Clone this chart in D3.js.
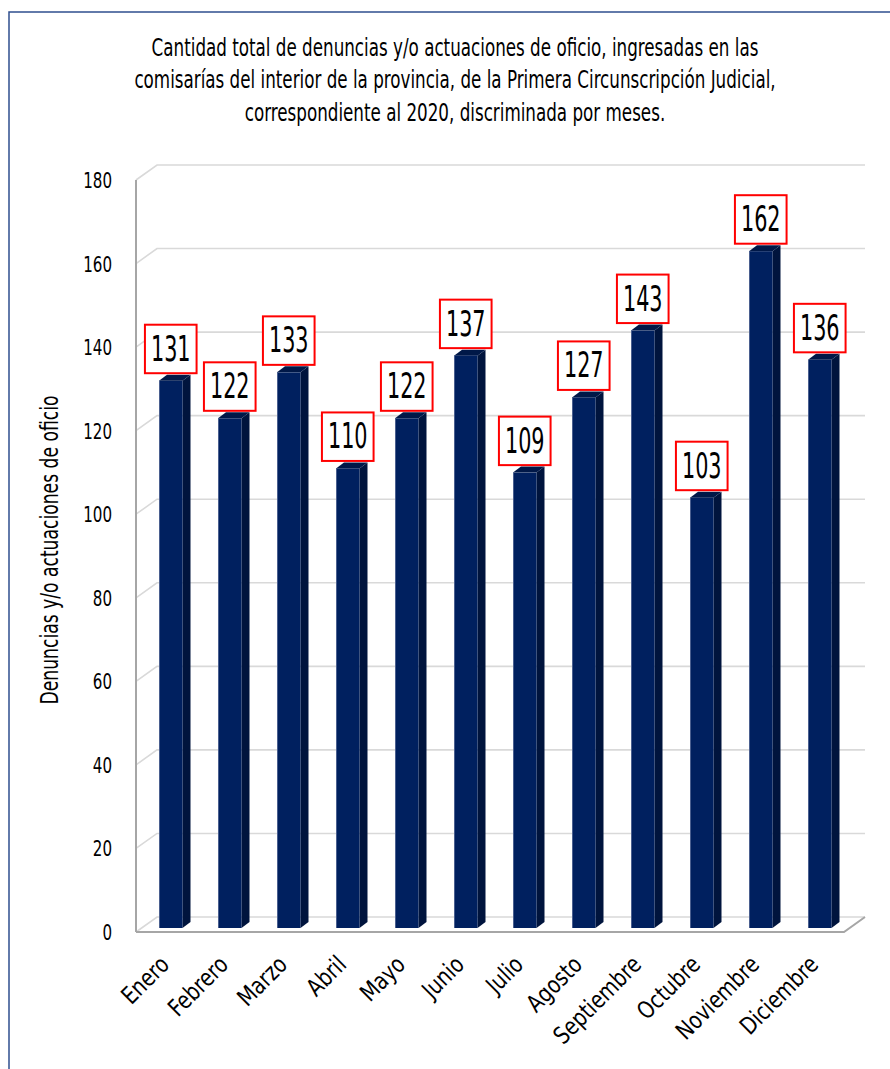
<!DOCTYPE html>
<html><head><meta charset="utf-8">
<script src="https://cdn.jsdelivr.net/npm/d3@7"></script>
<style>
html,body{margin:0;padding:0;background:#fff;}
svg text{font-family:"Liberation Sans Narrow","DejaVu Sans Condensed","Arial Narrow",sans-serif;fill:#000;}
</style></head>
<body><svg id="c" width="890" height="1069"></svg>
<script>
const months = ["Enero","Febrero","Marzo","Abril","Mayo","Junio","Julio","Agosto","Septiembre","Octubre","Noviembre","Diciembre"];
const values = [131,122,133,110,122,137,109,127,143,103,162,136];
const yTicks = [0,20,40,60,80,100,120,140,160,180];
const titleLines = ["Cantidad total de denuncias y/o actuaciones de oficio, ingresadas en las",
  "comisarías del interior de la provincia, de la Primera Circunscripción Judicial,",
  "correspondiente al 2020, discriminada por meses."];
const yTitle = "Denuncias y/o actuaciones de oficio";

const svg = d3.select("#c");
const DX = 21, DY = -15;          // wall depth
const BX = 5.6, BY = -4;          // bar plane offset
const SX = 8, SY = -6;            // bar depth

// border
svg.append("path").attr("d","M9,1069 L9,12 L890,12").attr("fill","none").attr("stroke","#2f4f8f").attr("stroke-width",1.5);

// title
const tcx = 455;
svg.append("g").selectAll("text").data(titleLines).join("text")
  .attr("x",tcx).attr("y",(d,i)=>56+i*32.5).attr("text-anchor","middle")
  .attr("font-size",25).attr("transform",`translate(${tcx},0) scale(0.745,1) translate(${-tcx},0)`)
  .text(d=>d);

const x = d3.scaleBand().domain(months).range([136,844]);
const y = d3.scaleLinear().domain([0,180]).range([932,180]);

// grid: left wall diagonals + back wall horizontals
const g = svg.append("g");
g.selectAll(".gl").data(yTicks).join("path")
  .attr("d",d=>`M${136},${y(d)} L${136+DX},${y(d)+DY} L${844+DX},${y(d)+DY}`)
  .attr("fill","none").attr("stroke","#d9d9d9").attr("stroke-width",1.6);
// left wall front edge
g.append("line").attr("x1",136).attr("x2",136).attr("y1",y(180)).attr("y2",y(0))
  .attr("stroke","#a6a6a6").attr("stroke-width",2);
// floor front edge + right diagonal
g.append("path").attr("d",`M136,${y(0)} L844,${y(0)} L${844+DX},${y(0)+DY}`)
  .attr("fill","none").attr("stroke","#a6a6a6").attr("stroke-width",2);

// y tick labels
svg.append("g").selectAll("text").data(yTicks).join("text")
  .attr("x",112).attr("y",d=>y(d)+8).attr("text-anchor","end").attr("font-size",21)
  .attr("transform",d=>`translate(112,0) scale(0.8,1) translate(-112,0)`)
  .text(d=>d);

// y title
svg.append("text").attr("transform","translate(58,550) rotate(-90) scale(0.795,1)")
  .attr("text-anchor","middle").attr("font-size",24).text(yTitle);

// bars
const bw = 23.5;
const bars = svg.append("g").selectAll("g").data(months.map((m,i)=>({m,v:values[i]}))).join("g");
bars.each(function(d){
  const gg = d3.select(this);
  const x0 = x(d.m) + x.bandwidth()*0.295 + BX;
  const x1 = x0 + bw;
  const yb = y(0) + BY, yt = y(d.v) + BY;
  gg.append("path").attr("d",`M${x1},${yb} L${x1},${yt} L${x1+SX},${yt+SY} L${x1+SX},${yb+SY} Z`).attr("fill","#00143d");
  gg.append("path").attr("d",`M${x0},${yt} L${x0+SX},${yt+SY} L${x1+SX},${yt+SY} L${x1},${yt} Z`).attr("fill","#001848");
  gg.append("rect").attr("x",x0).attr("y",yt).attr("width",bw).attr("height",yb-yt).attr("fill","#00205f");
  gg.append("line").attr("x1",x0+0.5).attr("x2",x0+0.5).attr("y1",yt).attr("y2",yb).attr("stroke","#4a5f8f").attr("stroke-width",1);
  // label
  const cx = x0 + bw/2;
  const t = gg.append("text").attr("x",cx).attr("y",yt-20).attr("text-anchor","middle")
    .attr("font-size",35).attr("transform",`translate(${cx},0) scale(0.66,1) translate(${-cx},0)`).text(d.v);
  const w = t.node().getBBox().width*0.66 + 12;
  gg.insert("rect","text").attr("x",cx-w/2).attr("y",yt-56).attr("width",w).attr("height",48.5)
    .attr("fill","#fff").attr("stroke","#ff0000").attr("stroke-width",2);
});

// x labels
svg.append("g").selectAll("text").data(months).join("text")
  .attr("text-anchor","end").attr("font-size",24)
  .attr("transform",d=>`translate(${x(d)+x.bandwidth()*0.295+BX+bw/2},${966}) rotate(-45) scale(0.9,1)`)
  .text(d=>d);
</script></body></html>
